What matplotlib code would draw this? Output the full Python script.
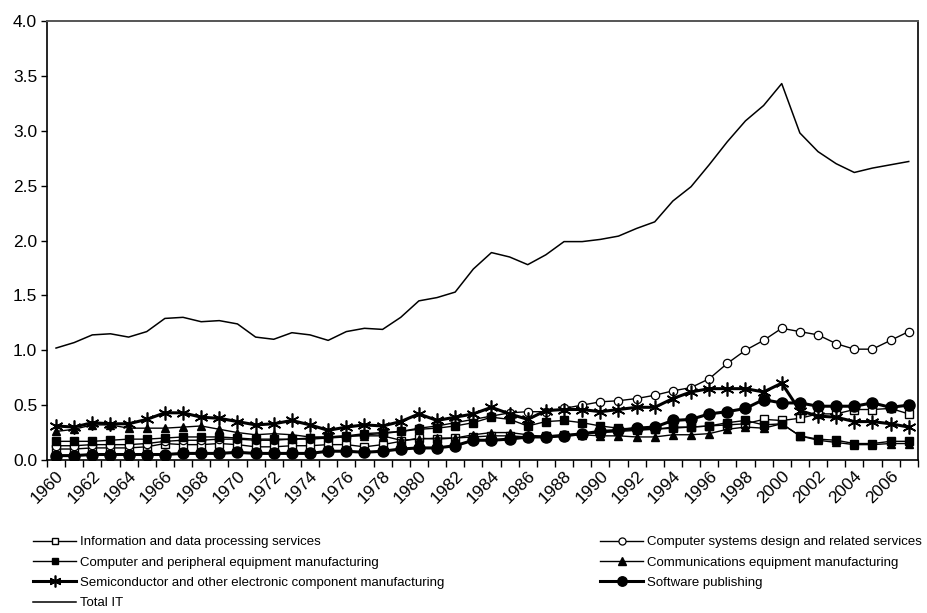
import numpy as np
import matplotlib
matplotlib.use("Agg")
from matplotlib import pyplot as plt

plt.rcParams['font.family'] = ['Liberation Sans', 'DejaVu Sans']

years = list(range(1960, 2008))

# Ratios by industry, 1960-2007
info_data = [0.10, 0.10, 0.11, 0.11, 0.11, 0.12, 0.15, 0.14, 0.14, 0.15,
             0.14, 0.12, 0.12, 0.13, 0.13, 0.14, 0.14, 0.12, 0.14, 0.17,
             0.20, 0.19, 0.20, 0.21, 0.22, 0.22, 0.21, 0.22, 0.23, 0.24,
             0.25, 0.26, 0.27, 0.28, 0.29, 0.30, 0.31, 0.32, 0.33, 0.37,
             0.36, 0.38, 0.42, 0.42, 0.46, 0.46, 0.47, 0.42]
comp_sys = [0.13, 0.13, 0.14, 0.14, 0.14, 0.15, 0.17, 0.18, 0.18, 0.19,
            0.19, 0.18, 0.18, 0.19, 0.19, 0.20, 0.21, 0.23, 0.24, 0.26,
            0.29, 0.31, 0.34, 0.37, 0.40, 0.43, 0.44, 0.44, 0.47, 0.50,
            0.53, 0.54, 0.56, 0.59, 0.63, 0.66, 0.74, 0.88, 1.00, 1.09,
            1.20, 1.17, 1.14, 1.06, 1.01, 1.01, 1.09, 1.17]
comp_periph = [0.17, 0.17, 0.17, 0.18, 0.19, 0.19, 0.20, 0.21, 0.21, 0.21,
               0.20, 0.19, 0.19, 0.19, 0.20, 0.21, 0.22, 0.24, 0.25, 0.26,
               0.28, 0.29, 0.31, 0.34, 0.39, 0.37, 0.31, 0.35, 0.36, 0.34,
               0.31, 0.29, 0.28, 0.28, 0.30, 0.30, 0.31, 0.34, 0.36, 0.32,
               0.33, 0.22, 0.19, 0.18, 0.15, 0.15, 0.17, 0.17]
comms = [0.26, 0.28, 0.32, 0.32, 0.29, 0.29, 0.29, 0.30, 0.31, 0.28,
         0.25, 0.23, 0.24, 0.23, 0.21, 0.21, 0.22, 0.22, 0.22, 0.18,
         0.19, 0.20, 0.20, 0.23, 0.25, 0.25, 0.23, 0.21, 0.22, 0.23,
         0.22, 0.22, 0.21, 0.21, 0.23, 0.23, 0.24, 0.28, 0.30, 0.29,
         0.33, 0.22, 0.18, 0.16, 0.14, 0.14, 0.15, 0.15]
semi = [0.31, 0.30, 0.34, 0.33, 0.33, 0.37, 0.43, 0.43, 0.39, 0.38,
        0.35, 0.32, 0.33, 0.36, 0.32, 0.27, 0.30, 0.32, 0.31, 0.35,
        0.42, 0.36, 0.39, 0.42, 0.48, 0.42, 0.37, 0.45, 0.46, 0.46,
        0.44, 0.46, 0.48, 0.48, 0.56, 0.62, 0.65, 0.65, 0.65, 0.62,
        0.70, 0.45, 0.40, 0.39, 0.35, 0.35, 0.33, 0.30]
software = [0.04, 0.04, 0.05, 0.05, 0.05, 0.05, 0.05, 0.06, 0.06, 0.06,
            0.07, 0.06, 0.06, 0.06, 0.06, 0.08, 0.08, 0.07, 0.08, 0.10,
            0.11, 0.11, 0.13, 0.18, 0.18, 0.19, 0.21, 0.21, 0.22, 0.24,
            0.26, 0.27, 0.29, 0.30, 0.36, 0.37, 0.42, 0.44, 0.47, 0.55,
            0.52, 0.52, 0.49, 0.49, 0.49, 0.52, 0.48, 0.50]
total_it = [1.02, 1.07, 1.14, 1.15, 1.12, 1.17, 1.29, 1.30, 1.26, 1.27,
            1.24, 1.12, 1.10, 1.16, 1.14, 1.09, 1.17, 1.20, 1.19, 1.30,
            1.45, 1.48, 1.53, 1.74, 1.89, 1.85, 1.78, 1.87, 1.99, 1.99,
            2.01, 2.04, 2.11, 2.17, 2.36, 2.49, 2.69, 2.90, 3.09, 3.23,
            3.43, 2.98, 2.81, 2.70, 2.62, 2.66, 2.69, 2.72]

fig = plt.figure(figsize=(9.28, 6.13), dpi=100)
ax = fig.add_axes([0.0506, 0.2496, 0.9384, 0.7161])

x = np.arange(len(years))
k = 'black'

l_info, = ax.plot(x, info_data, color=k, lw=1.0, marker='s', ms=5.5,
                  mfc='white', mec=k, mew=1.0,
                  label="Information and data processing services")
l_sys, = ax.plot(x, comp_sys, color=k, lw=1.0, marker='o', ms=6,
                 mfc='white', mec=k, mew=0.9,
                 label="Computer systems design and related services")
l_per, = ax.plot(x, comp_periph, color=k, lw=1.0, marker='s', ms=5.5,
                 mfc=k, mec=k, label="Computer and peripheral equipment manufacturing")
l_com, = ax.plot(x, comms, color=k, lw=1.0, marker='^', ms=6,
                 mfc=k, mec=k, label="Communications equipment manufacturing")
l_semi, = ax.plot(x, semi, color=k, lw=2.2, marker=(6, 2, 0), ms=10,
                  mec=k, mew=1.2,
                  label="Semiconductor and other electronic component manufacturing")
l_soft, = ax.plot(x, software, color=k, lw=2.2, marker='o', ms=8,
                  mfc=k, mec=k, label="Software publishing")
l_tot, = ax.plot(x, total_it, color=k, lw=1.1, label="Total IT")

ax.set_xlim(-0.5, len(years) - 0.5)
ax.set_ylim(0, 4.0)
ax.set_yticks(np.arange(0, 4.01, 0.5))
ax.set_yticklabels(["%.1f" % v for v in np.arange(0, 4.01, 0.5)], fontsize=12.5)

# year labels every other category, tick marks on category boundaries
ax.set_xticks(x[::2])
ax.set_xticklabels([str(y) for y in years[::2]], rotation=45, ha='right',
                   va='top', rotation_mode='anchor', fontsize=12.5)
ax.tick_params(axis='x', which='major', length=0, pad=6)
ax.set_xticks(np.arange(-0.5, len(years), 1.0), minor=True)
ax.tick_params(axis='x', which='minor', length=5, width=1.0, direction='out')
ax.tick_params(axis='y', length=4, width=1.0, direction='out', pad=3)

for side in ['left', 'bottom', 'right']:
    ax.spines[side].set_color(k)
    ax.spines[side].set_linewidth(1.2)
ax.spines['top'].set_color('#555555')
ax.spines['top'].set_linewidth(1.4)

# two legend columns placed separately
leg_font = {'family': ['Liberation Sans', 'DejaVu Sans'], 'size': 9.5}
left_col = [l_info, l_per, l_semi, l_tot]
right_col = [l_sys, l_com, l_soft]
leg_opts = dict(loc='upper left', frameon=False, handlelength=3.25,
                handletextpad=0.3, labelspacing=0.62, borderaxespad=0,
                borderpad=0, prop=leg_font, markerscale=0.85)
fig.legend(handles=left_col, labels=[h.get_label() for h in left_col],
           bbox_to_anchor=(0.036, 0.1256), **leg_opts)
fig.legend(handles=right_col, labels=[h.get_label() for h in right_col],
           bbox_to_anchor=(0.647, 0.1256), **leg_opts)

fig.savefig("out.png", dpi=100)
